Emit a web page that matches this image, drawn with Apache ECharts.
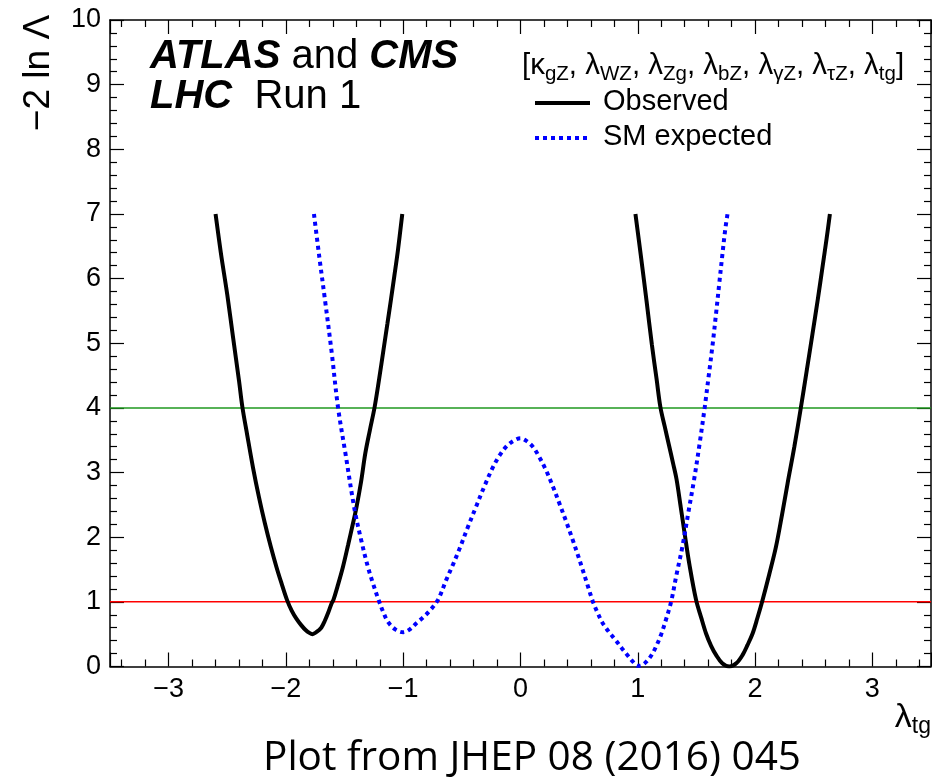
<!DOCTYPE html>
<html>
<head>
<meta charset="utf-8">
<script src="https://cdn.jsdelivr.net/npm/echarts@6/dist/echarts.min.js"></script>
<style>
  html, body { margin: 0; padding: 0; background: #ffffff; }
  #chart { width: 932px; height: 784px; }
</style>
</head>
<body>
<div id="chart"></div>
<script>
// Scan range of the coupling and of the test statistic
const xRange = [-3.5, 3.5];
const yRange = [0, 10];

// Observed -2 ln Lambda, negative-lambda_tg branch
const obsLeftX = [-2.600, -2.555, -2.500, -2.450, -2.400, -2.371, -2.330, -2.280, -2.230, -2.180, -2.130, -2.081, -2.040, -1.991, -1.950, -1.911, -1.870, -1.830, -1.800, -1.775, -1.750, -1.720, -1.698, -1.670, -1.640, -1.610, -1.595, -1.560, -1.514, -1.470, -1.430, -1.400, -1.360, -1.323, -1.285, -1.244, -1.205, -1.168, -1.135, -1.105, -1.075, -1.045, -1.008];
const obsLeftY = [7.00, 6.40, 5.75, 5.08, 4.42, 4.01, 3.58, 3.07, 2.62, 2.22, 1.86, 1.54, 1.30, 1.03, 0.86, 0.74, 0.64, 0.56, 0.52, 0.50, 0.52, 0.56, 0.60, 0.70, 0.83, 0.98, 1.03, 1.24, 1.54, 1.88, 2.20, 2.45, 2.85, 3.30, 3.65, 4.01, 4.45, 4.90, 5.30, 5.67, 6.05, 6.44, 7.00];

// Observed -2 ln Lambda, positive-lambda_tg branch
const obsRightX = [0.980, 1.030, 1.075, 1.120, 1.160, 1.193, 1.230, 1.265, 1.300, 1.330, 1.365, 1.400, 1.440, 1.497, 1.540, 1.582, 1.625, 1.667, 1.720, 1.780, 1.840, 1.894, 1.935, 1.979, 2.020, 2.064, 2.120, 2.178, 2.230, 2.277, 2.335, 2.391, 2.440, 2.490, 2.535, 2.575, 2.610, 2.638];
const obsRightY = [7.00, 6.30, 5.65, 4.98, 4.45, 4.01, 3.71, 3.43, 3.15, 2.90, 2.48, 2.05, 1.58, 1.03, 0.76, 0.51, 0.32, 0.18, 0.05, 0.00, 0.05, 0.18, 0.33, 0.51, 0.75, 1.03, 1.42, 1.85, 2.35, 2.83, 3.40, 4.01, 4.57, 5.15, 5.68, 6.18, 6.62, 7.00];

// SM expected -2 ln Lambda
const expX = [-1.761, -1.715, -1.667, -1.610, -1.556, -1.493, -1.414, -1.355, -1.301, -1.255, -1.210, -1.170, -1.130, -1.065, -1.000, -0.940, -0.888, -0.830, -0.775, -0.704, -0.633, -0.575, -0.520, -0.450, -0.377, -0.305, -0.236, -0.180, -0.122, -0.060, 0.000, 0.050, 0.105, 0.160, 0.219, 0.275, 0.332, 0.390, 0.445, 0.490, 0.531, 0.575, 0.616, 0.660, 0.701, 0.760, 0.815, 0.865, 0.914, 0.960, 1.000, 1.035, 1.071, 1.115, 1.156, 1.200, 1.241, 1.284, 1.330, 1.380, 1.430, 1.480, 1.525, 1.570, 1.605, 1.638, 1.668, 1.695, 1.720, 1.745, 1.765];
const expY = [7.00, 6.33, 5.67, 4.86, 4.01, 3.30, 2.42, 1.93, 1.54, 1.27, 1.03, 0.84, 0.69, 0.57, 0.53, 0.58, 0.67, 0.76, 0.86, 1.03, 1.34, 1.58, 1.82, 2.15, 2.48, 2.80, 3.08, 3.26, 3.40, 3.49, 3.53, 3.49, 3.40, 3.24, 3.03, 2.79, 2.52, 2.24, 1.96, 1.72, 1.49, 1.24, 1.01, 0.82, 0.67, 0.52, 0.40, 0.28, 0.17, 0.07, 0.01, 0.02, 0.07, 0.17, 0.31, 0.50, 0.73, 1.00, 1.42, 1.85, 2.37, 2.89, 3.42, 4.00, 4.50, 4.98, 5.47, 5.93, 6.35, 6.75, 7.00];

// Reference levels (68% and 95% CL)
const level1 = 1;
const level2 = 4;

const zip = (xs, ys) => xs.map((x, i) => [x, ys[i]]);
const minus = v => (v < 0 ? '\u2212' + Math.abs(v) : String(v));

const FONT = 'Liberation Sans, Arial, Helvetica, sans-serif';

const axisCommon = {
  axisLine: { show: true, onZero: false, lineStyle: { color: '#000', width: 1.5 } },
  axisTick: { show: true, inside: true, length: 14, lineStyle: { color: '#000', width: 1.2 } },
  minorTick: { show: true, splitNumber: 5, length: 7, lineStyle: { color: '#000', width: 1.2 } },
  splitLine: { show: false },
  minorSplitLine: { show: false }
};

const chart = echarts.init(document.getElementById('chart'), null, { renderer: 'canvas' });

chart.setOption({
  animation: false,
  backgroundColor: '#ffffff',
  grid: { left: 110, right: 1, top: 20, bottom: 117.5, containLabel: false },
  xAxis: [
    Object.assign({
      type: 'value', position: 'bottom', min: xRange[0], max: xRange[1], splitNumber: 7,
      axisLabel: {
        show: true, margin: 10, fontSize: 27, color: '#000', fontFamily: FONT,
        showMinLabel: false, showMaxLabel: false,
        formatter: v => (Number.isInteger(v) ? minus(v) : '')
      }
    }, axisCommon),
    Object.assign({
      type: 'value', position: 'top', min: xRange[0], max: xRange[1], splitNumber: 7,
      axisLabel: { show: false }
    }, axisCommon)
  ],
  yAxis: [
    Object.assign({
      type: 'value', position: 'left', min: yRange[0], max: yRange[1], interval: 1,
      axisLabel: { show: true, margin: 9, fontSize: 27, color: '#000', fontFamily: FONT }
    }, axisCommon),
    Object.assign({
      type: 'value', position: 'right', min: yRange[0], max: yRange[1], interval: 1,
      axisLabel: { show: false }
    }, axisCommon)
  ],
  series: [
    {
      type: 'line', name: 'level1', silent: true, symbol: 'none', z: 1,
      data: [[xRange[0], level1], [xRange[1], level1]],
      lineStyle: { color: '#ff0000', width: 1.5 }
    },
    {
      type: 'line', name: 'level2', silent: true, symbol: 'none', z: 1,
      data: [[xRange[0], level2], [xRange[1], level2]],
      lineStyle: { color: '#1f991f', width: 1.5 }
    },
    {
      type: 'line', name: 'Observed', symbol: 'none', smooth: 0.35, z: 3,
      data: zip(obsLeftX, obsLeftY),
      lineStyle: { color: '#000000', width: 4 }
    },
    {
      type: 'line', name: 'Observed', symbol: 'none', smooth: 0.35, z: 3,
      data: zip(obsRightX, obsRightY),
      lineStyle: { color: '#000000', width: 4 }
    },
    {
      type: 'line', name: 'SM expected', symbol: 'none', smooth: 0.35, z: 4,
      data: zip(expX, expY),
      lineStyle: { color: '#0000ff', width: 4, type: [4, 4], cap: 'butt' }
    }
  ],
  graphic: [
    // Experiment labels
    {
      type: 'text', x: 150, y: 57,
      style: {
        text: '{b|ATLAS} and {b|CMS}',
        font: '40px ' + FONT, fill: '#000', verticalAlign: 'middle',
        rich: { b: { fontSize: 40, fontWeight: 'bold', fontStyle: 'italic', fontFamily: FONT } }
      }
    },
    {
      type: 'text', x: 150, y: 97,
      style: {
        text: '{b|LHC}  Run 1',
        font: '40px ' + FONT, fill: '#000', verticalAlign: 'middle',
        rich: { b: { fontSize: 40, fontWeight: 'bold', fontStyle: 'italic', fontFamily: FONT } }
      }
    },
    // Legend header: parameters of the fit
    {
      type: 'text', x: 522, y: 66,
      style: {
        text: '[\u03ba{s|gZ}, \u03bb{s|WZ}, \u03bb{s|Zg}, \u03bb{s|bZ}, \u03bb{s|\u03b3Z}, \u03bb{s|\u03c4Z}, \u03bb{s|tg}]',
        font: '29.5px ' + FONT, fill: '#000', verticalAlign: 'middle', lineHeight: 36,
        rich: { s: { fontSize: 20.5, fontFamily: FONT, verticalAlign: 'bottom', lineHeight: 37 } }
      }
    },
    // Legend entries
    { type: 'line', shape: { x1: 535, y1: 103, x2: 590, y2: 103 }, style: { stroke: '#000', lineWidth: 4 } },
    { type: 'text', x: 603, y: 102, style: { text: 'Observed', font: '29px ' + FONT, fill: '#000', verticalAlign: 'middle' } },
    { type: 'line', shape: { x1: 535, y1: 138, x2: 590, y2: 138 }, style: { stroke: '#0000ff', lineWidth: 4, lineDash: [4, 4] } },
    { type: 'text', x: 603, y: 137, style: { text: 'SM expected', font: '29px ' + FONT, fill: '#000', verticalAlign: 'middle' } },
    // Axis titles
    {
      type: 'text', x: 39, y: 73, rotation: Math.PI / 2,
      style: { text: '\u22122 ln \u039b', font: '37px ' + FONT, fill: '#000', align: 'center', verticalAlign: 'middle' }
    },
    {
      type: 'text', x: 931, y: 718,
      style: {
        text: '\u03bb{s|tg}', font: '34px ' + FONT, fill: '#000', align: 'right', verticalAlign: 'middle', lineHeight: 40,
        rich: { s: { fontSize: 23, fontFamily: FONT, verticalAlign: 'bottom', lineHeight: 40 } }
      }
    },
    // Source note
    {
      type: 'text', x: 532, y: 758,
      style: { text: 'Plot from JHEP 08 (2016) 045', font: '40.5px Open Sans, Noto Sans, sans-serif', fill: '#000', align: 'center', verticalAlign: 'middle' }
    }
  ]
});
</script>
</body>
</html>
